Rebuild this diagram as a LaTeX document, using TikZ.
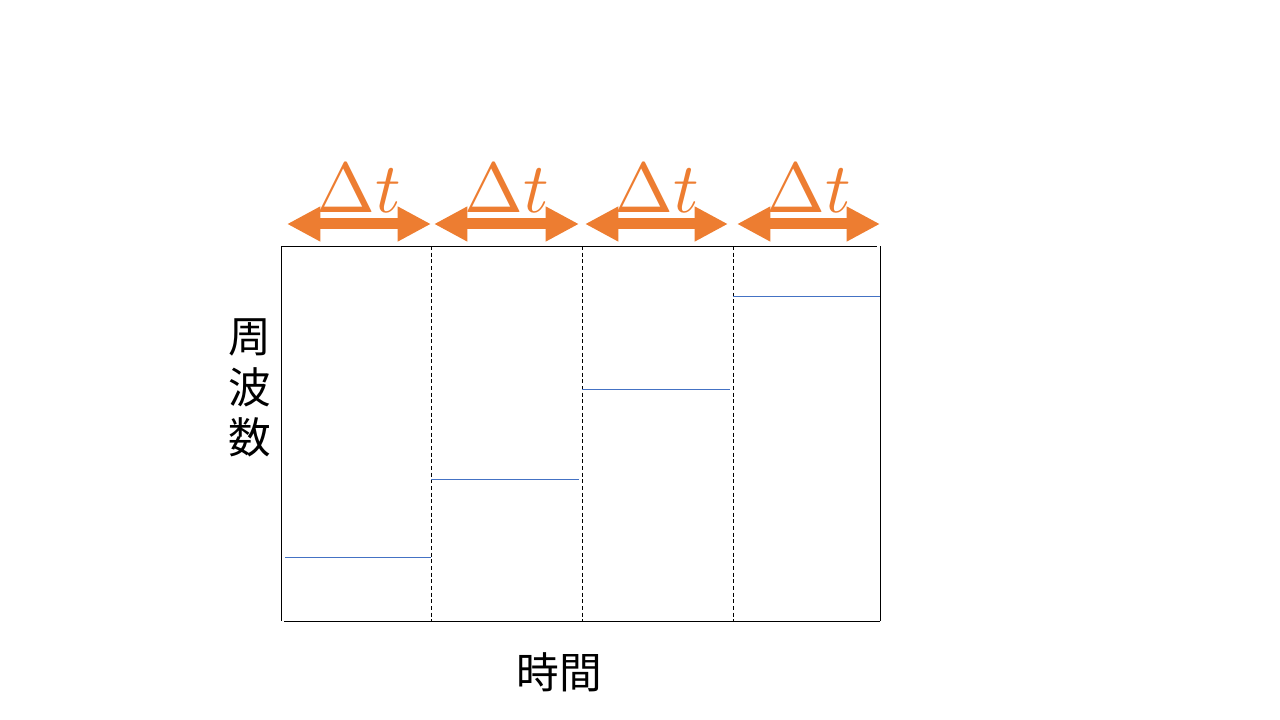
\documentclass[tikz,border=0pt]{standalone}
\usepackage{fontspec}
\newfontfamily\jpfont{Noto Sans CJK JP}
\usetikzlibrary{arrows.meta}
\definecolor{dtorange}{HTML}{ED7D31}
\definecolor{stepblue}{HTML}{4472C4}
\tikzset{
  frame/.style={line width=0.75pt},
  divider/.style={line width=0.75pt, dash pattern=on 3pt off 2pt},
  level/.style={stepblue, line width=0.75pt},
  span/.style={dtorange, line width=8.25pt,
    {Triangle[length=25pt,width=24.5pt]}-{Triangle[length=25pt,width=24.5pt]}},
  axislabel/.style={font=\jpfont\fontsize{32}{38}\selectfont, align=center, inner sep=0pt}
}
\begin{document}
\begin{tikzpicture}[x=0.75pt, y=-0.75pt]
	\useasboundingbox (0,0) rectangle (1280,720);
	% frame
	\draw[frame] (281,246) -- (877,246);
	\draw[frame] (281,246) -- (281,621);
	\draw[frame] (284,621) -- (880,621);
	\draw[frame] (880,246) -- (880,621);
	\foreach \x in {431,582,733}
		\draw[divider] (\x,246) -- (\x,621);
	% frequency in each interval
	\foreach \xa/\xb/\y in {285/431/557, 431/579/479, 582/730/389, 733/880/296}
		\draw[level] (\xa,\y) -- (\xb,\y);
	% intervals
	\foreach \xa/\xb [count=\i] in {287/431, 434/579, 585/728, 737/880}{
		\coordinate (l\i) at (\xa,224);
		\coordinate (r\i) at (\xb,224);
		\draw[span] (l\i) -- (r\i);
		\node[dtorange, anchor=base, inner sep=0pt] (dt\i) at ({(\xa+\xb)/2},213) {\scalebox{5.3}{$\Delta t$}};
	}
	\node[axislabel] (freq) at (250,388) {周\\波\\数};
	\node[axislabel] (time) at (559,672) {時間};
\end{tikzpicture}
\end{document}
